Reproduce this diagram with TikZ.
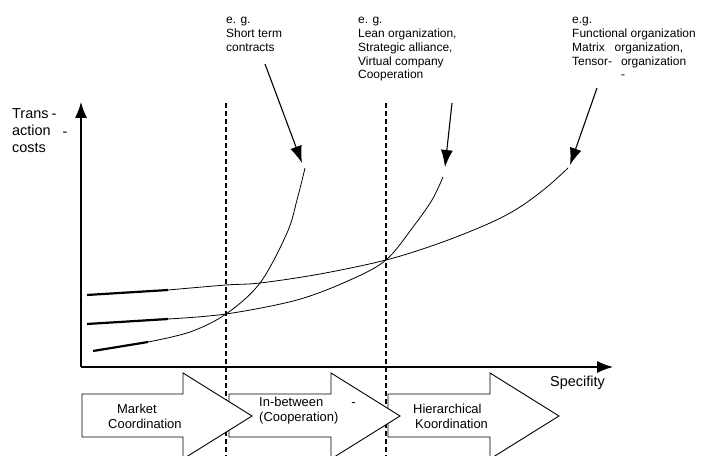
\documentclass[tikz,border=0pt]{standalone}
\usepackage{fontspec}
\setmainfont{Liberation Sans}
\usetikzlibrary{arrows.meta}
\begin{document}
\begin{tikzpicture}[x=1bp,y=-1bp,
  axis/.style={line width=1.1bp,-{Latex[length=16bp,width=12bp]}},
  pointer/.style={line width=1.1bp,-{Latex[length=17bp,width=12bp]}},
  divider/.style={line width=1.2bp,dash pattern=on 5bp off 3bp},
  blockarrow/.style={draw,fill=white,line width=0.9bp,line join=miter},
  thincurve/.style={line width=0.8bp},
  thickpart/.style={line width=2.2bp},
  toplabel/.style={anchor=north west,inner sep=0pt,align=left,font=\fontsize{12}{14}\selectfont},
  arrowlabel/.style={anchor=north west,inner sep=0pt,align=left,font=\fontsize{13}{15}\selectfont},
  axislabel/.style={anchor=north west,inner sep=0pt,align=left,font=\fontsize{14.5}{17}\selectfont}
]
\useasboundingbox (0,0) rectangle (710,456);

% dividers
\coordinate (d1top) at (226,103); \coordinate (d1bot) at (226,456);
\coordinate (d2top) at (386,103); \coordinate (d2bot) at (386,456);
\draw[divider] (d1top) -- (d1bot);
\draw[divider] (d2top) -- (d2bot);

% block arrows (drawn right to left so each head covers the next body)
\draw[blockarrow] (388,394) -- (490,394) -- (490,373) -- (559,416) -- (490,459) -- (490,437) -- (388,437) -- cycle;
\draw[blockarrow] (229,394) -- (331,394) -- (331,373) -- (400,416) -- (331,459) -- (331,437) -- (229,437) -- cycle;
\draw[blockarrow] (82,394) -- (183,394) -- (183,373) -- (252,416) -- (183,459) -- (183,437) -- (82,437) -- cycle;

\node[arrowlabel] (mkt) at (108,403) {\rule{0pt}{10bp}\hspace*{9bp}Market\\Coordination};
\node[arrowlabel] (inb) at (259,396) {\rule{0pt}{10bp}In-between\hspace*{28bp}-\\(Cooperation)};
\node[arrowlabel] (hier) at (413,403) {\rule{0pt}{10bp}Hierarchical\\\hspace*{2bp}Koordination};

% axes
\coordinate (O) at (81,367);
\coordinate (ytip) at (81,102);
\coordinate (xtip) at (613,367);
\draw[axis] (O) -- (ytip);
\draw[axis] (O) -- (xtip);

\node[axislabel] (ylab) at (12,107) {\rule{0pt}{11bp}Trans\hspace*{3bp}-\\action\hspace*{12bp}\raisebox{-1bp}{-}\\costs};
\node[axislabel,anchor=base west] (xlab) at (550,386) {Specifity};

% curves
\draw[thincurve] plot[smooth,tension=0.55] coordinates {(148,342) (190,332) (226,314) (260,283) (287,233) (297,200) (305,168)};
\draw[thickpart] (93,351) -- (148,342);
\coordinate (endA) at (305,168);

\draw[thincurve] plot[smooth,tension=0.55] coordinates {(168,319) (226,314) (297,300) (350,280) (386,260) (413,227) (432,200) (443,177)};
\draw[thickpart] (87,324) -- (168,319);
\coordinate (endB) at (443,177);

\draw[thincurve] plot[smooth,tension=0.55] coordinates {(168,290) (226,285) (260,283) (320,274) (386,260) (440,243) (490,223) (520,207) (547,187) (568,168)};
\draw[thickpart] (87,295) -- (168,290);
\coordinate (endC) at (568,168);

% top labels
\node[toplabel] (lblA) at (226,14) {\rule{0pt}{9bp}e. g.\\Short term\\contracts};
\node[toplabel] (lblB) at (358,14) {\rule{0pt}{9bp}e. g.\\Lean organization,\\Strategic alliance,\\Virtual company\\Cooperation};
\node[toplabel] (lblC) at (572,14) {\rule{0pt}{9bp}e.g.\\Functional organization\\Matrix\hspace*{10bp}organization,\\Tensor-\hspace*{9bp}organization\\\hspace*{49bp}-};

% pointers
\coordinate (pA) at (265,64); \coordinate (tA) at (302,163);
\coordinate (pB) at (452,103); \coordinate (tB) at (445,167);
\coordinate (pC) at (597,88); \coordinate (tC) at (570,165);
\draw[pointer] (pA) -- (tA);
\draw[pointer] (pB) -- (tB);
\draw[pointer] (pC) -- (tC);
\end{tikzpicture}
\end{document}
